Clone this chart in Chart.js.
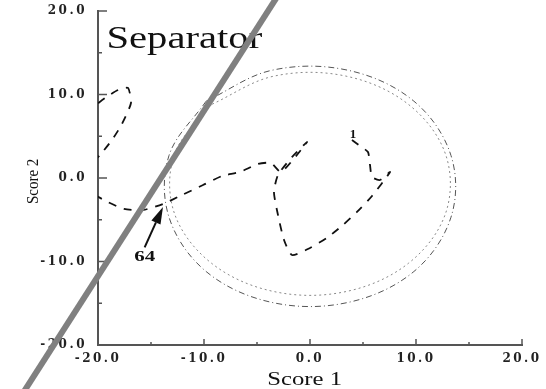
<!DOCTYPE html>
<html>
<head>
<meta charset="utf-8">
<script src="https://cdn.jsdelivr.net/npm/chart.js@4.4.1/dist/chart.umd.min.js"></script>
<style>
  html, body { margin: 0; padding: 0; background: #fff; }
  canvas { display: block; }
</style>
</head>
<body>
<canvas id="scores" width="546" height="389"></canvas>
<script>
// Batch trajectory in score space (sample 1 ... sample 64, then the part leaving the plot)
const pathScore1 = [3.96, 4.72, 5.47, 5.66, 5.85, 6.6, 7.55, 5.85, 4.43, 3.11, 1.7, 0.0, -1.7, -2.45,
    -3.02, -3.4, -3.02, -1.7, -0.28, -1.32, -2.74, -3.68, -4.91, -6.6, -8.3, -10.09, -12.08, -13.87,
    -15.75, -17.55, -19.25, -20.94, -21.13, -19.81, -18.68, -17.74, -16.89, -17.17, -18.11, -19.34, -20.57];
const pathScore2 = [4.55, 3.83, 3.11, 1.56, 0.12, -0.24, 0.72, -2.16, -4.07, -5.63, -7.07, -8.38, -9.22, -7.43,
    -4.43, -1.68, 0.36, 2.51, 4.31, 2.63, 0.72, 1.8, 1.68, 0.72, 0.24, -0.84, -2.04, -3.11,
    -3.83, -3.71, -2.75, -1.44, 0.96, 2.75, 4.55, 6.47, 8.98, 10.78, 10.54, 9.58, 8.38];

// Control limits: outer and inner
const outerScore1 = [-9.8, -13.3, -13.3, -9.8, -3.6, 3.6, 9.8, 13.3, 13.3, 9.8, 3.6, -3.6, -9.8];
const outerScore2 = [9.2, 2.7, -4.7, -11.2, -14.9, -14.9, -11.2, -4.7, 2.7, 9.2, 12.9, 12.9, 9.2];
const innerScore1 = [-9.3, -12.8, -12.8, -9.3, -3.4, 3.4, 9.3, 12.8, 12.8, 9.3, 3.4, -3.4, -9.3];
const innerScore2 = [8.8, 2.8, -4.2, -10.2, -13.6, -13.6, -10.2, -4.2, 2.8, 8.8, 12.2, 12.2, 8.8];

// grey slash running across the whole figure
const slashScore1 = [-3.0, -27.2];
const slashScore2 = [21.9, -26.0];

const majorTicks = [-20, -10, 0, 10, 20];
const minorTicks = [-15, -5, 5, 15];

const firstLabel = '1';
const lastLabel = '64';
const lastIndex = 27;

const axisColor = '#555';
const serif = '"Liberation Serif", "Times New Roman", serif';
const tickFont = '"DejaVu Serif", serif';

function toPoints(xs, ys) {
    return xs.map((v, i) => ({ x: v, y: ys[i] }));
}

const decorations = {
    id: 'decorations',
    beforeDraw(chart) {
        // wide tracking on the tick numbers
        chart.ctx.letterSpacing = '2.5px';
    },
    beforeDatasetsDraw(chart) {
        const { ctx, chartArea, scales: { x, y } } = chart;
        ctx.save();
        ctx.letterSpacing = '0px';
        ctx.strokeStyle = axisColor;
        ctx.lineWidth = 1.5;
        ctx.beginPath();
        majorTicks.forEach(v => {
            const py = y.getPixelForValue(v);
            ctx.moveTo(chartArea.left, py);
            ctx.lineTo(chartArea.left + 9, py);
            const px = x.getPixelForValue(v);
            ctx.moveTo(px, chartArea.bottom);
            ctx.lineTo(px, chartArea.bottom - 6);
        });
        minorTicks.forEach(v => {
            const py = y.getPixelForValue(v);
            ctx.moveTo(chartArea.left, py);
            ctx.lineTo(chartArea.left + 4, py);
            const px = x.getPixelForValue(v);
            ctx.moveTo(px, chartArea.bottom);
            ctx.lineTo(px, chartArea.bottom - 3);
        });
        ctx.stroke();

        // panel name, sits under the slash
        ctx.fillStyle = '#111';
        ctx.font = '32px ' + serif;
        ctx.textBaseline = 'alphabetic';
        ctx.translate(x.getPixelForValue(-19.2), y.getPixelForValue(15.6));
        ctx.scale(1.27, 1);
        ctx.fillText('Separator', 0, 0);
        ctx.restore();
    },
    afterDraw(chart) {
        const { ctx, scales: { x, y } } = chart;
        ctx.save();
        ctx.letterSpacing = '0px';
        ctx.fillStyle = '#111';
        ctx.strokeStyle = '#111';

        // axis titles
        ctx.save();
        ctx.font = '19px ' + serif;
        ctx.textAlign = 'center';
        ctx.textBaseline = 'alphabetic';
        ctx.translate(x.getPixelForValue(-0.5), chart.height - 4);
        ctx.scale(1.3, 1);
        ctx.fillText('Score 1', 0, 0);
        ctx.restore();

        ctx.save();
        ctx.font = '15px ' + serif;
        ctx.textAlign = 'center';
        ctx.textBaseline = 'alphabetic';
        ctx.translate(38, y.getPixelForValue(-0.4));
        ctx.rotate(-Math.PI / 2);
        ctx.scale(1, 1.15);
        ctx.fillText('Score 2', 0, 0);
        ctx.restore();

        // first sample
        ctx.save();
        ctx.font = 'bold 13px ' + serif;
        ctx.textAlign = 'center';
        ctx.textBaseline = 'middle';
        ctx.fillText(firstLabel, x.getPixelForValue(pathScore1[0] + 0.1), y.getPixelForValue(pathScore2[0] + 0.6));
        ctx.restore();

        // last sample with arrow
        const lx = x.getPixelForValue(-15.6);
        const ly = y.getPixelForValue(-9.5);
        ctx.save();
        ctx.font = 'bold 15px ' + serif;
        ctx.textAlign = 'center';
        ctx.textBaseline = 'middle';
        ctx.translate(lx, ly);
        ctx.scale(1.4, 1);
        ctx.fillText(lastLabel, 0, 0);
        ctx.restore();

        const tx = x.getPixelForValue(pathScore1[lastIndex]);
        const ty = y.getPixelForValue(pathScore2[lastIndex]) + 3;
        const sx = lx, sy = ly - 10;
        const len = Math.hypot(tx - sx, ty - sy);
        const ux = (tx - sx) / len, uy = (ty - sy) / len;
        const head = 17, half = 5;
        const bx = tx - ux * head, by = ty - uy * head;
        ctx.lineWidth = 2;
        ctx.beginPath();
        ctx.moveTo(sx, sy);
        ctx.lineTo(bx, by);
        ctx.stroke();
        ctx.beginPath();
        ctx.moveTo(tx, ty);
        ctx.lineTo(bx - uy * half, by + ux * half);
        ctx.lineTo(bx + uy * half, by - ux * half);
        ctx.closePath();
        ctx.fill();
        ctx.restore();
    }
};

Chart.defaults.font.family = serif;
Chart.defaults.color = '#222';

new Chart(document.getElementById('scores'), {
    type: 'scatter',
    data: {
        datasets: [
            {
                data: toPoints(slashScore1, slashScore2),
                showLine: true,
                borderColor: '#808080',
                borderWidth: 6,
                pointRadius: 0,
                clip: false,
                order: 0
            },
            {
                data: toPoints(pathScore1, pathScore2),
                showLine: true,
                borderColor: '#111',
                borderWidth: 1.8,
                borderDash: [8, 8],
                tension: 0.2,
                pointRadius: 0,
                order: 1
            },
            {
                data: toPoints(outerScore1, outerScore2),
                showLine: true,
                borderColor: '#555',
                borderWidth: 1,
                borderDash: [6, 3, 1, 3],
                tension: 0.35,
                pointRadius: 0,
                order: 2
            },
            {
                data: toPoints(innerScore1, innerScore2),
                showLine: true,
                borderColor: '#888',
                borderWidth: 1,
                borderDash: [2, 3],
                tension: 0.35,
                pointRadius: 0,
                order: 3
            }
        ]
    },
    options: {
        responsive: false,
        animation: false,
        layout: {
            padding: { top: 11, right: 24, left: 0, bottom: 0 }
        },
        plugins: {
            legend: { display: false },
            tooltip: { enabled: false }
        },
        scales: {
            x: {
                type: 'linear',
                min: -20,
                max: 20,
                grid: { display: false, drawTicks: false },
                border: { display: true, color: axisColor, width: 2 },
                ticks: {
                    stepSize: 10,
                    autoSkip: false,
                    maxRotation: 0,
                    padding: 7,
                    font: { family: tickFont, size: 12, weight: 'bold' },
                    callback: v => v.toFixed(1)
                },
                afterFit: s => {
                    s.height = 44;
                    s.paddingLeft = 0;
                    s.paddingRight = 0;
                }
            },
            y: {
                type: 'linear',
                min: -20,
                max: 20,
                grid: { display: false, drawTicks: false },
                border: { display: true, color: axisColor, width: 2 },
                ticks: {
                    stepSize: 10,
                    padding: 11,
                    font: { family: tickFont, size: 12, weight: 'bold' },
                    callback: v => v.toFixed(1)
                },
                afterFit: s => {
                    s.width = 98;
                    s.paddingTop = 0;
                    s.paddingBottom = 0;
                }
            }
        }
    },
    plugins: [decorations]
});
</script>
</body>
</html>
